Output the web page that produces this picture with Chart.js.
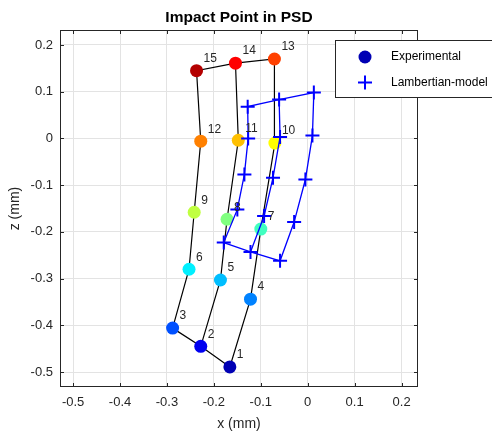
<!DOCTYPE html>
<html>
<head>
<meta charset="utf-8">
<script src="https://cdn.jsdelivr.net/npm/chart.js@4.4.0/dist/chart.umd.min.js"></script>
<style>
  body { margin: 0; background: #fff; }
  canvas { display: block; }
</style>
</head>
<body>
<canvas id="psdChart" width="492" height="432"></canvas>
<script>
// Experimental impact points (1..15), x and z in mm
const expX = [-0.166, -0.228, -0.288, -0.122, -0.186, -0.253, -0.100, -0.172, -0.242, -0.070, -0.148, -0.228, -0.071, -0.154, -0.237];
const expZ = [-0.489, -0.445, -0.406, -0.344, -0.303, -0.280, -0.194, -0.173, -0.158, -0.010, -0.004, -0.006, 0.170, 0.161, 0.145];
const pointLabels = ['1', '2', '3', '4', '5', '6', '7', '8', '9', '10', '11', '12', '13', '14', '15'];

// Lambertian-model points, same ordering
const modX = [-0.059, -0.122, -0.179, -0.029, -0.093, -0.150, -0.005, -0.074, -0.135, 0.010, -0.059, -0.127, 0.013, -0.061, -0.128];
const modZ = [-0.262, -0.243, -0.223, -0.179, -0.166, -0.152, -0.088, -0.084, -0.077, 0.006, 0.003, 0.000, 0.098, 0.083, 0.068];

// grid connections (1-based point numbers), 0 = break
const gridPath = [3, 2, 1, 4, 7, 10, 13, 14, 15, 12, 9, 6, 3, 0, 2, 5, 8, 11, 14];

const seriesNames = ['Experimental', 'Lambertian-model'];

const xTicks = [-0.5, -0.4, -0.3, -0.2, -0.1, 0, 0.1, 0.2];
const zTicks = [-0.5, -0.4, -0.3, -0.2, -0.1, 0, 0.1, 0.2];

// point colours (jet-like)
const pointColors = ['#0000b4', '#0000f0', '#0050ff', '#0082ff', '#00beff', '#00f0ff', '#40ffc0', '#80ff80',
                     '#c0ff40', '#ffff00', '#ffc000', '#ff8000', '#ff4000', '#ff0000', '#b40000'];

const FONT = "'Liberation Sans', Arial, Helvetica, sans-serif";
const TXT = '#262626';

function toPoints(xs, zs) {
    return xs.map((x, i) => ({ x: x, y: zs[i] }));
}

function toPath(xs, zs) {
    return gridPath.map(n => n === 0 ? { x: null, y: null } : { x: xs[n - 1], y: zs[n - 1] });
}

function fmt(v) {
    const r = Math.round(v * 10) / 10;
    return r === 0 ? '0' : String(r);
}

const decorations = {
    id: 'decorations',
    afterDraw(chart) {
        const ctx = chart.ctx;
        const a = chart.chartArea;
        const xs = chart.scales.x, ys = chart.scales.y;
        ctx.save();

        // point number labels
        ctx.fillStyle = TXT;
        ctx.font = '12px ' + FONT;
        ctx.textAlign = 'left';
        ctx.textBaseline = 'middle';
        pointLabels.forEach((lab, i) => {
            const px = xs.getPixelForValue(expX[i]);
            const py = ys.getPixelForValue(expZ[i]);
            ctx.fillText(lab, px + 7, py - 12);
        });

        // axes box
        ctx.strokeStyle = TXT;
        ctx.lineWidth = 1;
        ctx.strokeRect(a.left + 0.5, a.top + 0.5, a.right - a.left - 1, a.bottom - a.top - 1);

        // inward ticks
        ctx.beginPath();
        xTicks.forEach(v => {
            const p = Math.round(xs.getPixelForValue(v)) + 0.5;
            ctx.moveTo(p, a.bottom); ctx.lineTo(p, a.bottom - 4);
            ctx.moveTo(p, a.top); ctx.lineTo(p, a.top + 4);
        });
        zTicks.forEach(v => {
            const p = Math.round(ys.getPixelForValue(v)) + 0.5;
            ctx.moveTo(a.left, p); ctx.lineTo(a.left + 4, p);
            ctx.moveTo(a.right, p); ctx.lineTo(a.right - 4, p);
        });
        ctx.stroke();

        // title and axis titles
        const cx = (a.left + a.right) / 2;
        ctx.textAlign = 'center';
        ctx.font = 'bold 15.5px ' + FONT;
        ctx.fillStyle = '#000';
        ctx.fillText('Impact Point in PSD', cx, 17.5);
        ctx.fillStyle = TXT;
        ctx.font = '14px ' + FONT;
        ctx.fillText('x (mm)', cx, 424);
        ctx.save();
        ctx.translate(15, (a.top + a.bottom) / 2);
        ctx.rotate(-Math.PI / 2);
        ctx.fillText('z (mm)', 0, 0);
        ctx.restore();

        // legend
        ctx.fillStyle = '#fff';
        ctx.fillRect(335.5, 40.5, 170, 57);
        ctx.strokeStyle = TXT;
        ctx.strokeRect(335.5, 40.5, 170, 57);
        ctx.beginPath();
        ctx.arc(365, 57, 6.5, 0, Math.PI * 2);
        ctx.fillStyle = pointColors[0];
        ctx.fill();
        ctx.strokeStyle = '#0000ff';
        ctx.lineWidth = 2;
        ctx.beginPath();
        ctx.moveTo(358, 82.5); ctx.lineTo(372, 82.5);
        ctx.moveTo(365, 75.5); ctx.lineTo(365, 89.5);
        ctx.stroke();
        ctx.fillStyle = '#000';
        ctx.font = '12px ' + FONT;
        ctx.textAlign = 'left';
        ctx.fillText(seriesNames[0], 391, 57);
        ctx.fillText(seriesNames[1], 391, 82.5);

        ctx.restore();
    }
};

const axisCommon = {
    type: 'linear',
    grid: { color: '#e3e3e3', lineWidth: 1, drawTicks: false },
    border: { display: false },
};

new Chart(document.getElementById('psdChart').getContext('2d'), {
    type: 'scatter',
    data: {
        datasets: [
            {
                label: 'exp-grid',
                data: toPath(expX, expZ),
                showLine: true,
                borderColor: '#000',
                borderWidth: 1.2,
                pointRadius: 0,
                order: 4
            },
            {
                label: seriesNames[0],
                data: toPoints(expX, expZ),
                pointStyle: 'circle',
                pointRadius: 6.5,
                backgroundColor: pointColors,
                borderColor: pointColors,
                borderWidth: 0,
                order: 3
            },
            {
                label: 'model-grid',
                data: toPath(modX, modZ),
                showLine: true,
                borderColor: '#0000ff',
                borderWidth: 1.3,
                pointRadius: 0,
                order: 2
            },
            {
                label: seriesNames[1],
                data: toPoints(modX, modZ),
                pointStyle: 'cross',
                pointRadius: 7,
                borderColor: '#0000ff',
                borderWidth: 2,
                order: 1
            }
        ]
    },
    options: {
        responsive: false,
        animation: false,
        layout: { padding: { left: 0, top: 30, right: 74, bottom: 0 } },
        plugins: {
            legend: { display: false },
            tooltip: { enabled: false },
            title: { display: false }
        },
        scales: {
            x: Object.assign({}, axisCommon, {
                min: -0.528,
                max: 0.235,
                afterFit: s => { s.height = 45; },
                afterBuildTicks: s => { s.ticks = xTicks.map(v => ({ value: v })); },
                ticks: { padding: 8, color: TXT, font: { family: FONT, size: 13 }, callback: fmt, maxRotation: 0 }
            }),
            y: Object.assign({}, axisCommon, {
                min: -0.532,
                max: 0.232,
                afterFit: s => { s.width = 60; },
                afterBuildTicks: s => { s.ticks = zTicks.map(v => ({ value: v })); },
                ticks: { padding: 7, color: TXT, font: { family: FONT, size: 13 }, callback: fmt }
            })
        }
    },
    plugins: [decorations]
});
</script>
</body>
</html>
